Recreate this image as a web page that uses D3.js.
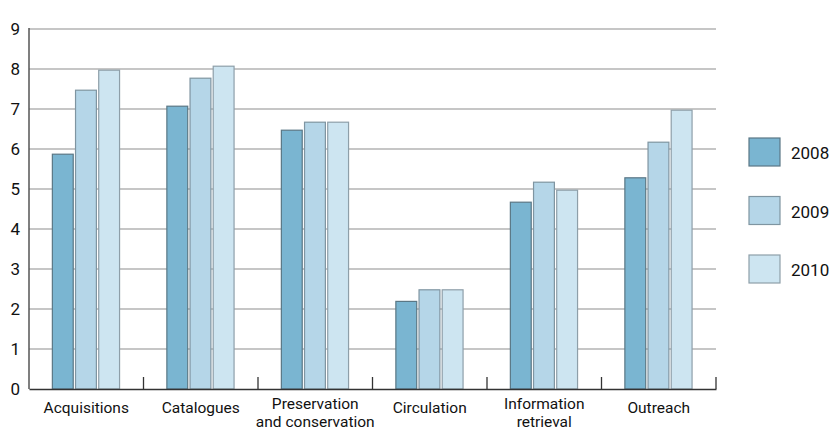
<!DOCTYPE html>
<html>
<head>
<meta charset="utf-8">
<script src="https://cdn.jsdelivr.net/npm/d3@7"></script>
<style>
  html, body { margin: 0; padding: 0; background: #ffffff; }
  svg { display: block; }
  text { font-family: Roboto, "Open Sans", sans-serif; fill: #111; }
</style>
</head>
<body>
<svg id="chart" width="830" height="432"></svg>
<script>
const categories = ["Acquisitions", "Catalogues", "Preservation\nand conservation", "Circulation", "Information\nretrieval", "Outreach"];
const seriesNames = ["2008", "2009", "2010"];
const values2008 = [5.87, 7.07, 6.47, 2.19, 4.67, 5.28];
const values2009 = [7.47, 7.77, 6.67, 2.48, 5.17, 6.17];
const values2010 = [7.97, 8.07, 6.67, 2.48, 4.97, 6.97];
const yTicks = [0, 1, 2, 3, 4, 5, 6, 7, 8, 9];

const seriesValues = [values2008, values2009, values2010];
const fills = ["#7ab5d1", "#b5d6e8", "#cde5f1"];
const strokes = ["#5a7785", "#7f95a1", "#8e9fa9"];

const svg = d3.select("#chart");
const mLeft = 29, mRight = 716, mTop = 29, mBottom = 389;

const y = d3.scaleLinear().domain([0, 9]).range([mBottom, mTop]);
const x0 = d3.scaleBand().domain(d3.range(categories.length)).range([mLeft, mRight]).padding(0);
const bw = x0.bandwidth();
const x1 = d3.scaleBand().domain(d3.range(seriesNames.length)).range([bw * 0.2, bw * 0.795]).paddingInner(0.1).paddingOuter(0.02);

// grid lines
svg.append("g")
  .selectAll("line")
  .data(yTicks.filter(t => t > 0))
  .join("line")
  .attr("x1", mLeft).attr("x2", mRight)
  .attr("y1", d => y(d)).attr("y2", d => y(d))
  .attr("stroke", "#b3b3b3").attr("stroke-width", 1.3);

// y axis labels
const yAxis = d3.axisLeft(y).tickValues(yTicks).tickSize(0).tickPadding(9).tickFormat(d3.format("d"));
const gy = svg.append("g").attr("transform", `translate(${mLeft},0)`).call(yAxis);
gy.select(".domain").remove();
gy.selectAll("text").attr("font-size", 17).attr("fill", "#111").attr("font-family", "Roboto, sans-serif").attr("dy", "0.3em");

// bars
const groups = svg.append("g").selectAll("g")
  .data(categories.map((c, i) => i))
  .join("g")
  .attr("transform", i => `translate(${x0(i)},0)`);

groups.selectAll("rect")
  .data(i => seriesValues.map((vals, s) => ({ s, v: vals[i] })))
  .join("rect")
  .attr("x", d => x1(d.s))
  .attr("width", x1.bandwidth())
  .attr("y", d => y(d.v))
  .attr("height", d => y(0) - y(d.v))
  .attr("fill", d => fills[d.s])
  .attr("stroke", d => strokes[d.s])
  .attr("stroke-width", 1.2);

// left axis line
svg.append("line")
  .attr("x1", mLeft).attr("x2", mLeft)
  .attr("y1", mTop - 1).attr("y2", mBottom)
  .attr("stroke", "#555").attr("stroke-width", 1.5);

// bottom axis
const xAxis = d3.axisBottom(x0).tickSize(0).tickFormat("");
const gx = svg.append("g").attr("transform", `translate(0,${mBottom})`).call(xAxis);
gx.select(".domain").attr("stroke", "#333").attr("stroke-width", 1.5);

// boundary ticks (upward)
svg.append("g").selectAll("line")
  .data(d3.range(1, categories.length + 1))
  .join("line")
  .attr("x1", i => x0.step() * i + mLeft).attr("x2", i => x0.step() * i + mLeft)
  .attr("y1", mBottom - 12).attr("y2", mBottom)
  .attr("stroke", "#333").attr("stroke-width", 1.3);

// category labels (one text element per line)
const labelLines = [];
categories.forEach((c, i) => {
  const lines = c.split("\n");
  const y0 = lines.length > 1 ? 408.5 : 413;
  lines.forEach((ln, k) => labelLines.push({ i, ln, yy: y0 + k * 18.4 }));
});
svg.append("g").selectAll("text")
  .data(labelLines)
  .join("text")
  .attr("x", d => x0(d.i) + bw / 2)
  .attr("y", d => d.yy)
  .attr("text-anchor", "middle")
  .attr("font-size", 15.5)
  .attr("fill", "#111")
  .text(d => d.ln);

// legend
const legend = svg.append("g").selectAll("g")
  .data(seriesNames.map((n, s) => ({ n, s })))
  .join("g")
  .attr("transform", d => `translate(749,${138 + d.s * 58.5})`);
legend.append("rect")
  .attr("width", 31).attr("height", 28)
  .attr("fill", d => fills[d.s])
  .attr("stroke", d => strokes[d.s])
  .attr("stroke-width", 1.2);
legend.append("text")
  .attr("x", 42).attr("y", 21)
  .attr("font-size", 17)
  .attr("fill", "#111")
  .text(d => d.n);
</script>
</body>
</html>
